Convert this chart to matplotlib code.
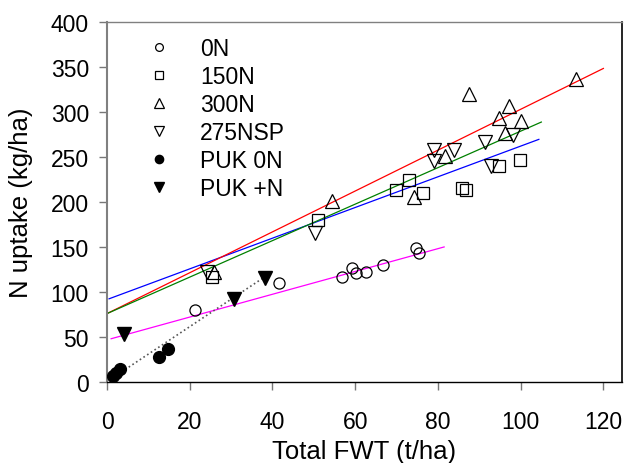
import matplotlib
matplotlib.use("Agg")
import matplotlib.pyplot as plt
import numpy as np

plt.rcParams['font.family'] = ['Liberation Sans', 'DejaVu Sans']

# ---- data ----
x_0N = [21.3, 41.5, 56.7, 59.2, 60.2, 62.5, 66.7, 74.6, 75.5]
y_0N = [80, 109.6, 116.7, 127, 121.5, 122.2, 130, 149, 143]

x_150N = [25.4, 51.0, 69.9, 72.9, 76.3, 85.9, 86.7, 94.7, 99.8]
y_150N = [117, 179.6, 213.3, 224.8, 210, 216, 213.7, 240, 246.7]

x_300N = [25.8, 54.4, 74.1, 81.7, 87.4, 94.7, 97.3, 96.3, 100.2, 113.3]
y_300N = [122.6, 201, 205.5, 251, 319.6, 293, 306.7, 277, 290, 337]

x_275NSP = [24.2, 50.2, 79.1, 79.1, 83.9, 91.3, 92.8, 98.1]
y_275NSP = [122.6, 166, 257.8, 245.6, 257.4, 267, 240, 274.4]

x_PUK0N = [1.35, 2.25, 3.04, 12.6, 14.7]
y_PUK0N = [6.7, 10.4, 14.9, 28, 36.3]

x_PUKN = [4.2, 30.8, 38.1]
y_PUKN = [53, 92.6, 116]

# regression lines: (x_start, x_end, slope, intercept)
fit_0N = (1.0, 81.5, 1.267, 46.8)
fit_150N = (0.5, 104.4, 1.705, 91.6)
fit_300N = (0.0, 120.0, 2.27, 76.0)
fit_275NSP = (0.0, 105.0, 2.027, 76.0)
fit_PUK = (0.8, 37.5, 3.05, 0.5)

xticks = [0, 20, 40, 60, 80, 100, 120]
yticks = [0, 50, 100, 150, 200, 250, 300, 350, 400]

# ---- figure ----
fig = plt.figure(figsize=(6.26, 4.64), dpi=100)
ax = fig.add_axes([107/626, (464-383)/464, (622-107)/626, (383-23)/464])

def fline(f, color, ls='-', lw=0.9):
    xs = np.array([f[0], f[1]])
    ax.plot(xs, f[2]*xs + f[3], color=color, lw=lw, ls=ls, zorder=2)

fline(fit_0N, '#ff00ff')
fline(fit_150N, '#0000ff')
fline(fit_300N, '#ff0000')
fline(fit_275NSP, '#008000')
fline(fit_PUK, '#555555', ls=':', lw=1.2)

mk = dict(ls='none', mfc='none', mec='black', mew=0.9, zorder=3)
ax.plot(x_0N, y_0N, 'o', ms=8, label='0N', **mk)
ax.plot(x_150N, y_150N, 's', ms=8.5, label='150N', **mk)
ax.plot(x_300N, y_300N, '^', ms=10, label='300N', **mk)
ax.plot(x_275NSP, y_275NSP, 'v', ms=10, label='275NSP', **mk)
ax.plot(x_PUK0N, y_PUK0N, 'o', ms=8.5, ls='none', color='black', label='PUK 0N', zorder=3)
ax.plot(x_PUKN, y_PUKN, 'v', ms=10, ls='none', color='black', label='PUK +N', zorder=3)

ax.set_xlim(0, 124.5)
ax.set_ylim(0, 400)
ax.set_xticks(xticks)
ax.set_yticks(yticks)
ax.tick_params(axis='both', direction='out', length=6, width=1, colors='#777777',
               labelcolor='black', labelsize=16.5)
ax.tick_params(axis='y', pad=7)
ax.tick_params(axis='x', pad=14)

ax.spines['left'].set_color('#808080')
ax.spines['left'].set_linewidth(1.5)
ax.spines['top'].set_color('#808080')
ax.spines['top'].set_linewidth(1.0)
ax.spines['bottom'].set_color('black')
ax.spines['bottom'].set_linewidth(1.0)
ax.spines['right'].set_color('black')
ax.spines['right'].set_linewidth(1.2)

ax.set_xlabel('Total FWT (t/ha)', fontsize=18.5, labelpad=4.5)
ax.set_ylabel('N uptake (kg/ha)', fontsize=18.5, labelpad=12.5)

leg = ax.legend(loc='upper left', bbox_to_anchor=(0.079, 0.957), frameon=False,
                fontsize=16.5, markerscale=0.7, handlelength=1.0, handletextpad=1.28,
                labelspacing=0.21, borderpad=0, borderaxespad=0)

fig.savefig('out.png', dpi=100)
